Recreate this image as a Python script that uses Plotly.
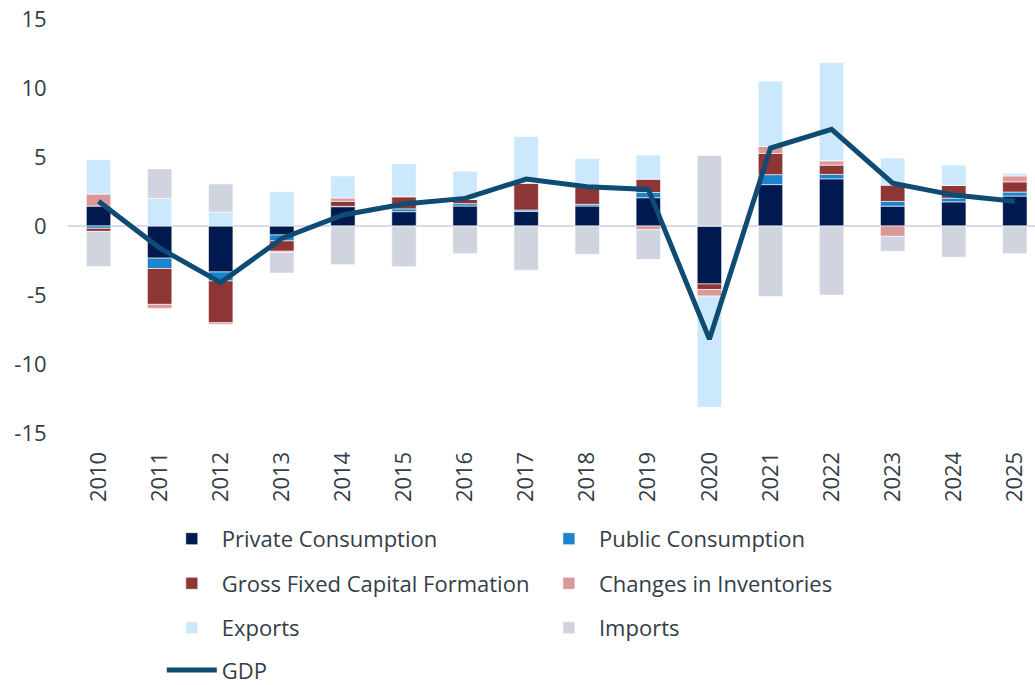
import plotly.graph_objects as go

years = [str(y) for y in range(2010, 2026)]

private_consumption = [1.44, -2.33, -3.33, -0.65, 1.40, 1.04, 1.45, 1.06, 1.45, 2.05, -4.20, 3.00, 3.42, 1.44, 1.75, 2.17]
public_consumption = [-0.17, -0.75, -0.65, -0.43, 0.03, 0.20, 0.17, 0.10, 0.12, 0.38, 0.00, 0.72, 0.32, 0.34, 0.27, 0.29]
gfcf = [-0.22, -2.60, -3.03, -0.75, 0.36, 0.87, 0.30, 1.93, 1.25, 0.96, -0.40, 1.54, 0.67, 1.18, 0.92, 0.74]
inventories = [0.87, -0.29, -0.12, -0.08, 0.24, 0.05, 0.00, 0.05, 0.00, -0.27, -0.48, 0.50, 0.31, -0.75, 0.00, 0.43]
exports = [2.50, 2.00, 1.00, 2.48, 1.60, 2.36, 2.05, 3.35, 2.07, 1.75, -8.06, 4.74, 7.13, 1.97, 1.47, 0.19]
imports = [-2.55, 2.14, 2.05, -1.50, -2.80, -2.95, -2.00, -3.20, -2.05, -2.15, 5.10, -5.10, -5.00, -1.08, -2.26, -2.00]
gdp = [1.80, -1.60, -4.10, -0.90, 0.80, 1.60, 2.00, 3.40, 2.85, 2.65, -8.20, 5.65, 7.00, 3.10, 2.24, 1.80]

y_tick_values = [-15, -10, -5, 0, 5, 10, 15]
y_tick_labels = ["-15", "-10", "-5", "0", "5", "10", "15"]

# (name, values, colour, legend column)
series = [
    ("Private Consumption", private_consumption, "#001A4F", "legend"),
    ("Public Consumption", public_consumption, "#1A85CC", "legend2"),
    ("Gross Fixed Capital Formation", gfcf, "#8E3535", "legend"),
    ("Changes in Inventories", inventories, "#DC9898", "legend2"),
    ("Exports", exports, "#CCE8FD", "legend"),
    ("Imports", imports, "#D0D4DF", "legend2"),
]

fig = go.Figure()
for i, (name, vals, color, leg) in enumerate(series):
    fig.add_trace(go.Bar(
        x=years, y=vals, name=name,
        legend=leg, legendgroup=f"g{i}",
        marker=dict(color=color, line=dict(color="white", width=0.6)),
    ))

fig.add_trace(go.Scatter(
    x=years, y=gdp, name="GDP", mode="lines",
    legend="legend3", legendgroup="gdp",
    line=dict(color="#0F4C74", width=5),
))

text_color = "#333D47"
font_family = "Open Sans, Lato, sans-serif"
legend_common = dict(
    orientation="v",
    yanchor="top",
    xanchor="left",
    itemwidth=50,
    font=dict(size=22, color=text_color),
    tracegroupgap=13,
    bgcolor="rgba(0,0,0,0)",
)

fig.update_layout(
    width=1035, height=685,
    barmode="relative",
    bargap=0.6,
    plot_bgcolor="white",
    paper_bgcolor="white",
    margin=dict(l=68, r=0, t=19, b=252, autoexpand=False),
    font=dict(family=font_family, size=22, color=text_color),
    xaxis=dict(
        type="category",
        range=[-0.5, 15.33],
        tickangle=-90,
        showgrid=False,
        showline=False,
        zeroline=False,
        ticks="outside", ticklen=9, tickcolor="rgba(0,0,0,0)",
        tickfont=dict(size=22, color=text_color),
    ),
    yaxis=dict(
        range=[-15, 15],
        tickvals=y_tick_values,
        ticktext=y_tick_labels,
        showgrid=False,
        zeroline=True, zerolinecolor="#D9DCE6", zerolinewidth=2,
        showline=False,
        ticks="outside", ticklen=16, tickcolor="rgba(0,0,0,0)",
        tickfont=dict(size=22, color=text_color),
    ),
    legend=dict(x=0.097, y=-0.205, **legend_common),
    legend2=dict(x=0.487, y=-0.205, **legend_common),
    legend3=dict(x=0.097, y=-0.522, **legend_common),
)

fig.write_html(
    "out.html",
    config={"displayModeBar": False},
    post_script="document.body.style.margin='0';document.body.style.overflow='hidden';",
)
